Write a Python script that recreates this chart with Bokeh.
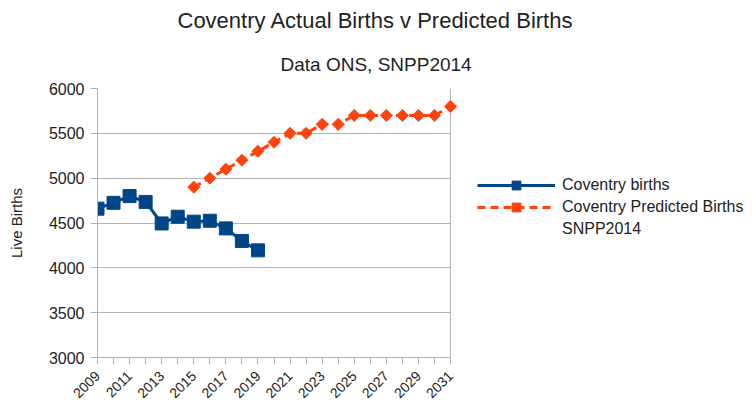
import math
from bokeh.plotting import figure
from bokeh.models import (Range1d, FixedTicker, Legend, LegendItem, Title)
from bokeh.embed import file_html
from bokeh.resources import INLINE

# ---- data ----
actual_years = [2009, 2010, 2011, 2012, 2013, 2014, 2015, 2016, 2017, 2018, 2019]
actual_births = [4660, 4725, 4800, 4735, 4495, 4570, 4515, 4525, 4440, 4300, 4195]

pred_years = [2015, 2016, 2017, 2018, 2019, 2020, 2021, 2022, 2023,
              2024, 2025, 2026, 2027, 2028, 2029, 2030, 2031]
pred_births = [4900, 5000, 5100, 5200, 5300, 5400, 5500, 5500, 5600,
               5600, 5700, 5700, 5700, 5700, 5700, 5700, 5800]

all_years = list(range(2009, 2032))
label_years = list(range(2009, 2032, 2))
y_ticks = [3000, 3500, 4000, 4500, 5000, 5500, 6000]

title_text = "Coventry Actual Births v Predicted Births"
subtitle_text = "Data ONS, SNPP2014"
series1_name = "Coventry births"
series2_name = "Coventry Predicted Births"
series2_name_line2 = "SNPP2014"
y_label = "Live Births"

BLUE = "#004586"
RED = "#ff420e"
GRID = "#b3b3b3"
TEXT = "#222222"
FONT = "Liberation Sans"

X0, X1 = all_years[0], all_years[-1]
AXIS_W = 353                     # pixel width between first and last year
PAD_PX = 7                       # room on the right so the last marker is not clipped
pad = PAD_PX * (X1 - X0) / AXIS_W

p = figure(width=756, height=407, frame_width=AXIS_W + PAD_PX, frame_height=269,
           output_backend="svg", toolbar_location=None,
           x_range=Range1d(X0, X1 + pad), y_range=Range1d(3000, 6000),
           min_border_left=97, min_border_right=756 - 450 - PAD_PX,
           min_border_top=88, min_border_bottom=50)
p.title = None
p.background_fill_color = "white"
p.border_fill_color = "white"
p.outline_line_color = None

# axes
p.xaxis.ticker = FixedTicker(ticks=all_years, minor_ticks=[])
p.xaxis.bounds = (X0, X1)
p.xaxis.major_label_overrides = {y: (str(y) if y in label_years else "") for y in all_years}
p.xaxis.major_label_orientation = math.pi / 4
p.xaxis.major_label_text_font_size = "14px"
p.xaxis.major_label_standoff = 9

p.yaxis.ticker = FixedTicker(ticks=y_ticks, minor_ticks=[])
p.yaxis.major_label_text_font_size = "16px"
p.yaxis.major_label_standoff = 6
p.yaxis.axis_label = y_label
p.yaxis.axis_label_text_font_size = "15px"
p.yaxis.axis_label_text_font_style = "normal"
p.yaxis.axis_label_standoff = 21
p.yaxis.axis_label_text_color = TEXT
p.yaxis.axis_label_text_font = FONT

for ax in (p.xaxis, p.yaxis):
    ax.axis_line_color = GRID
    ax.major_tick_line_color = GRID
    ax.major_tick_out = 7
    ax.major_tick_in = 0
    ax.minor_tick_line_color = None
    ax.major_label_text_color = TEXT
    ax.major_label_text_font = FONT

# horizontal grid limited to the year span; right border as a grid line at the last year
p.ygrid.grid_line_color = GRID
p.ygrid.ticker = FixedTicker(ticks=y_ticks)
p.ygrid.cross_bounds = (X0, X1)
p.xgrid.grid_line_color = GRID
p.xgrid.ticker = FixedTicker(ticks=[X1])

# series
l1 = p.line(actual_years, actual_births, line_color=BLUE, line_width=3)
s1 = p.scatter(actual_years, actual_births, marker="square", size=13,
               fill_color=BLUE, line_color=BLUE)
l2 = p.line(pred_years, pred_births, line_color=RED, line_width=3, line_dash="8 5")
s2 = p.scatter(pred_years, pred_births, marker="square", size=8.5, angle=math.pi / 4,
               fill_color=RED, line_color=RED)
# invisible renderer carrying the second line of the predicted-series label
l3 = p.line(x=[], y=[], line_alpha=0)

legend = Legend(items=[LegendItem(label=series1_name, renderers=[l1, s1]),
                       LegendItem(label=series2_name, renderers=[l2, s2]),
                       LegendItem(label=series2_name_line2, renderers=[l3])],
                location=(27 - PAD_PX, 117.5), padding=0, margin=0, spacing=0,
                glyph_width=78, glyph_height=22, label_height=22,
                label_standoff=7, border_line_color=None,
                background_fill_alpha=0,
                label_text_font_size="16px", label_text_font=FONT,
                label_text_color=TEXT)
p.add_layout(legend, "right")

p.add_layout(Title(text=subtitle_text, text_font_size="19px", text_font=FONT,
                   text_font_style="normal", text_color=TEXT, align="left",
                   offset=183, standoff=28), "above")
p.add_layout(Title(text=title_text, text_font_size="22px", text_font=FONT,
                   text_font_style="normal", text_color=TEXT, align="left",
                   offset=80, standoff=10), "above")

open("out.html", "w").write(file_html(p, INLINE))
